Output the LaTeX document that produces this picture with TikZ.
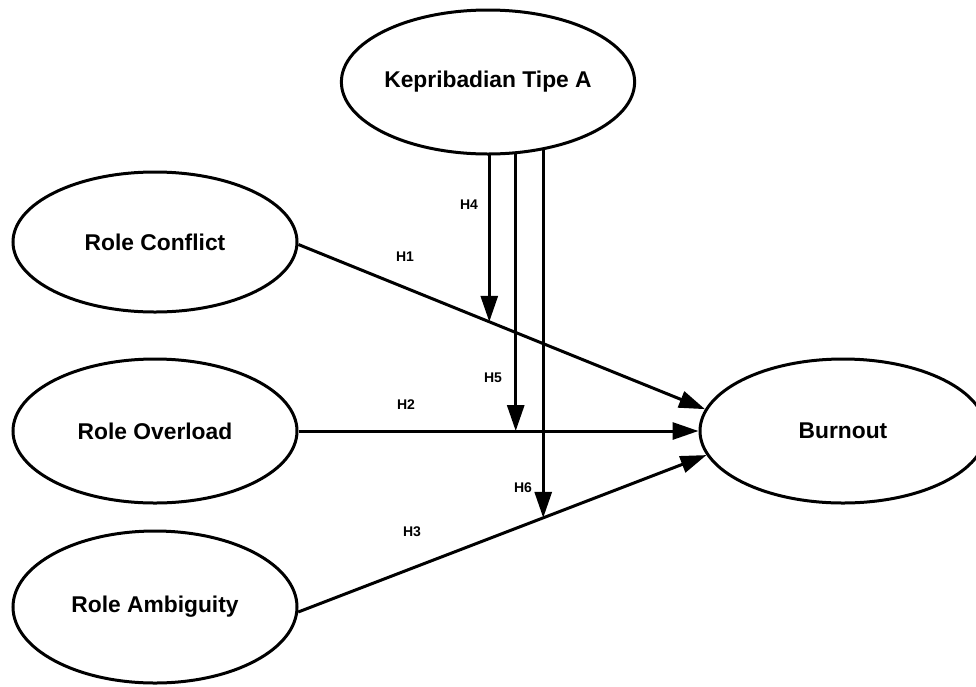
\documentclass[tikz,border=0pt]{standalone}
\usepackage{fontspec}
\setmainfont{Liberation Sans}
\usetikzlibrary{shapes.geometric,arrows.meta,intersections}
\begin{document}
\begin{tikzpicture}[x=1pt,y=-1pt,
  construct/.style={draw=black,line width=3pt,ellipse,inner sep=0pt,
    font=\fontsize{22.8}{27}\selectfont\bfseries},
  arr/.style={line width=3pt,-{Triangle[length=26pt,width=17pt]}},
  hlab/.style={font=\fontsize{14}{16}\selectfont\bfseries,inner sep=0pt}]
\useasboundingbox (0,0) rectangle (976,686);
\node[construct,minimum width=286pt,minimum height=144pt] (kt) at (488,82) {Kepribadian Tipe A};
\node[construct,minimum width=284pt,minimum height=140pt] (rc) at (155,242) {Role Conflict};
\node[construct,minimum width=284pt,minimum height=144pt] (ro) at (155,431) {Role Overload};
\node[construct,minimum width=284pt,minimum height=152pt] (ra) at (155,607) {Role Ambiguity};
\node[construct,minimum width=286pt,minimum height=144pt] (bo) at (843,431) {Burnout};
% main paths
\draw[arr,name path=h1] (rc.-1) -- (bo.171.3);
\draw[arr] (ro.east) -- (bo.west);
\draw[arr,name path=h3] (ra.-2) -- (bo.190.4);
% moderating paths
\path[name path=v4] (kt.-89.2) -- ++(0,300);
\path[name path=v6] (kt.-51.6) -- ++(0,500);
\path[name intersections={of=v4 and h1,by=i4}];
\path[name intersections={of=v6 and h3,by=i6}];
\draw[arr] (kt.-89.2) -- (i4);
\draw[arr] (kt.-69.84) -- (kt.-69.84 |- ro.east);
\draw[arr] (kt.-51.6) -- (i6);
% labels
\node[hlab] (l4) at (469,205) {H4};
\node[hlab] (l1) at (405,257) {H1};
\node[hlab] (l5) at (493,378) {H5};
\node[hlab] (l2) at (406,405) {H2};
\node[hlab] (l6) at (523,488) {H6};
\node[hlab] (l3) at (412,532) {H3};
\end{tikzpicture}
\end{document}
